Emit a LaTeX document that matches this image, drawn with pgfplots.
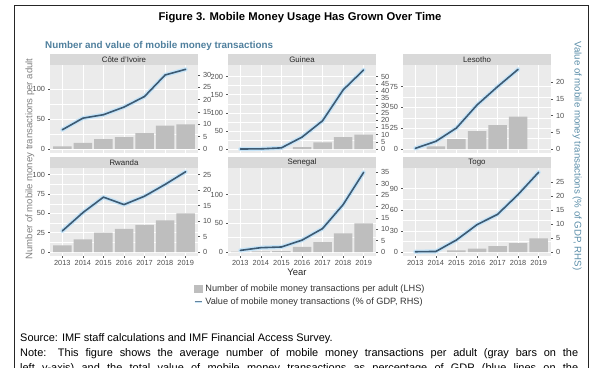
\documentclass[border=0pt]{standalone}
\usepackage{pgfplots}
\pgfplotsset{compat=1.18}
\usepackage{fontspec}
\setmainfont{Liberation Sans}
\definecolor{barc}{HTML}{BEBEBE}
\definecolor{panelbg}{HTML}{EBEBEB}
\definecolor{stripc}{HTML}{D9D9D9}
\definecolor{linec}{HTML}{3C5A73}
\definecolor{glowc}{HTML}{C6E4F8}
\definecolor{tlabc}{HTML}{4D4D4D}
\definecolor{tickc}{HTML}{555555}
\definecolor{subc}{HTML}{4F7F9D}
\definecolor{rlabc}{HTML}{5A8DA8}
\definecolor{llabc}{HTML}{808080}
\definecolor{legtc}{HTML}{333333}
\pgfplotsset{
  common/.style={anchor=south west, scale only axis, width=148bp, height=88bp,
    xmin=2012.4, xmax=2019.6, clip=false,
    tick align=outside, major tick length=2bp, minor tick length=0bp,
    tick style={color=tickc, line width=0.4bp},
    ticklabel style={font=\fontsize{7.4}{8.4}\selectfont, text=tlabc},
    /pgf/number format/assume math mode=true, scaled y ticks=false,
    axis line style={draw=none}},
  leftax/.style={common,
    axis background/.style={fill=panelbg},
    axis x line*=bottom, axis y line*=left,
    xtick={2013,...,2019}, minor x tick num=1, minor y tick num=1,
    xmajorgrids, ymajorgrids, xminorgrids, yminorgrids,
    major grid style={white, line width=0.6bp},
    minor grid style={white, line width=0.3bp},
    yticklabel style={xshift=0.5bp}},
  toprow/.style={xticklabels={}, x tick style={draw=none}},
  botrow/.style={xticklabels={2013,2014,2015,2016,2017,2018,2019},
    xticklabel style={yshift=1.5bp}},
  rightax/.style={common, axis x line=none, axis y line*=right,
    yticklabel style={xshift=-0.5bp}},
  bars/.style={ybar, bar width=0.9, bar shift=0pt, fill=barc, draw=none, forget plot},
  glow/.style={glowc, line width=4.2bp, line join=round, line cap=round},
  dline/.style={linec, line width=1.6bp, line join=round, line cap=round},
}
\begin{document}
\begin{tikzpicture}
\path[use as bounding box] (0,0) rectangle (600bp,-368bp);
% frame
\draw[line width=0.8bp, black!85] (14bp,-380bp) -- (14bp,-5bp) -- (588bp,-5bp) -- (588bp,-380bp);
\node[font=\bfseries\fontsize{11.3}{13}\selectfont] at (300bp,-18bp) {Figure 3. Mobile Money Usage Has Grown Over Time};
\node[anchor=west, font=\bfseries\fontsize{9.9}{11}\selectfont, text=subc, inner sep=0pt] at (45bp,-45.5bp) {Number and value of mobile money transactions};

% strips
\fill[stripc] (50bp,-54bp) rectangle (198bp,-65bp);
\fill[stripc] (228bp,-54bp) rectangle (376bp,-65bp);
\fill[stripc] (403bp,-54bp) rectangle (551bp,-65bp);
\fill[stripc] (50bp,-157bp) rectangle (198bp,-168bp);
\fill[stripc] (228bp,-157bp) rectangle (376bp,-168bp);
\fill[stripc] (403bp,-157bp) rectangle (551bp,-168bp);
\begin{scope}[every node/.style={font=\fontsize{7.9}{9}\selectfont, text=black!85, inner sep=0pt}]
\node at (124bp,-59.5bp) {Côte d'Ivoire};
\node at (302bp,-59.5bp) {Guinea};
\node at (477bp,-59.5bp) {Lesotho};
\node at (124bp,-162.5bp) {Rwanda};
\node at (302bp,-162.5bp) {Senegal};
\node at (477bp,-162.5bp) {Togo};
\end{scope}

% ---------------- Cote d'Ivoire
\begin{axis}[leftax, toprow, at={(50bp,-153bp)}, ymin=-6.7, ymax=139.8, ytick={0,50,100}]
\addplot[bars] coordinates {(2013,4.4) (2014,10) (2015,16.6) (2016,19.9) (2017,26.5) (2018,38.7) (2019,40.9)};
\end{axis}
\begin{axis}[rightax, at={(50bp,-153bp)}, ymin=-1.62, ymax=34.05, ytick={0,5,...,30}]
\addplot[glow] coordinates {(2013,7.8) (2014,12.5) (2015,13.9) (2016,17) (2017,21.3) (2018,30) (2019,32.3)};
\addplot[dline] coordinates {(2013,7.8) (2014,12.5) (2015,13.9) (2016,17) (2017,21.3) (2018,30) (2019,32.3)};
\end{axis}

% ---------------- Guinea
\begin{axis}[leftax, toprow, at={(228bp,-153bp)}, ymin=-11, ymax=232, ytick={0,50,...,200}]
\addplot[bars] coordinates {(2016,5.5) (2017,18) (2018,33) (2019,39.5)};
\end{axis}
\begin{axis}[rightax, at={(228bp,-153bp)}, ymin=-2.76, ymax=58, ytick={0,5,...,50}]
\addplot[glow] coordinates {(2013,0) (2014,0.1) (2015,0.8) (2016,8.2) (2017,19.5) (2018,40.8) (2019,54.6)};
\addplot[dline] coordinates {(2013,0) (2014,0.1) (2015,0.8) (2016,8.2) (2017,19.5) (2018,40.8) (2019,54.6)};
\end{axis}

% ---------------- Lesotho
\begin{axis}[leftax, toprow, at={(403bp,-153bp)}, ymin=-4.8, ymax=101, ytick={0,25,50,75}]
\addplot[bars] coordinates {(2014,3.2) (2015,12) (2016,21.5) (2017,28.7) (2018,39)};
\end{axis}
\begin{axis}[rightax, at={(403bp,-153bp)}, ymin=-1.2, ymax=25.2, ytick={0,5,...,20}]
\addplot[glow] coordinates {(2013,0.2) (2014,2.3) (2015,6.3) (2016,13.2) (2017,18.7) (2018,23.9)};
\addplot[dline] coordinates {(2013,0.2) (2014,2.3) (2015,6.3) (2016,13.2) (2017,18.7) (2018,23.9)};
\end{axis}

% ---------------- Rwanda
\begin{axis}[leftax, botrow, at={(50bp,-256bp)}, ymin=-5.17, ymax=108.6, ytick={0,25,50,75,100}]
\addplot[bars] coordinates {(2013,8.6) (2014,16.3) (2015,24.9) (2016,30) (2017,35.2) (2018,40.8) (2019,49.8)};
\end{axis}
\begin{axis}[rightax, at={(50bp,-256bp)}, ymin=-1.29, ymax=27.1, ytick={0,5,...,25}]
\addplot[glow] coordinates {(2013,6.8) (2014,12.7) (2015,17.7) (2016,15.3) (2017,18) (2018,21.8) (2019,25.9)};
\addplot[dline] coordinates {(2013,6.8) (2014,12.7) (2015,17.7) (2016,15.3) (2017,18) (2018,21.8) (2019,25.9)};
\end{axis}

% ---------------- Senegal
\begin{axis}[leftax, botrow, at={(228bp,-256bp)}, ymin=-6.95, ymax=146, ytick={0,50,100},
  legend style={at={(-0.235,-0.30)}, anchor=north west, draw=none, fill=none, inner sep=0pt,
    row sep=1bp, font=\fontsize{9.2}{10}\selectfont, text=legtc, nodes={inner ysep=2bp}}, legend cell align=left]
\addplot[bars] coordinates {(2013,0.5) (2014,1) (2015,1.5) (2016,8.7) (2017,17.3) (2018,32.4) (2019,49.7)};
\addlegendimage{legend image code/.code={\fill[barc] (0bp,-3.5bp) rectangle (7.5bp,3.5bp);}}
\addlegendentry{Number of mobile money transactions per adult (LHS)}
\addlegendimage{legend image code/.code={\draw[glowc, line width=2.5bp] (0bp,0bp) -- (7.5bp,0bp); \draw[linec!70!glowc, line width=1bp] (0bp,0bp) -- (7.5bp,0bp);}}
\addlegendentry{Value of mobile money transactions (\% of GDP, RHS)}
\end{axis}
\begin{axis}[rightax, at={(228bp,-256bp)}, ymin=-1.76, ymax=36.9, ytick={0,5,...,35}]
\addplot[glow] coordinates {(2013,0.7) (2014,1.9) (2015,2.2) (2016,5.2) (2017,10.3) (2018,20.8) (2019,35)};
\addplot[dline] coordinates {(2013,0.7) (2014,1.9) (2015,2.2) (2016,5.2) (2017,10.3) (2018,20.8) (2019,35)};
\end{axis}

% ---------------- Togo
\begin{axis}[leftax, botrow, at={(403bp,-256bp)}, ymin=-5.68, ymax=119.3, ytick={0,30,60,90}]
\addplot[bars] coordinates {(2015,2.4) (2016,4.7) (2017,8.5) (2018,12.7) (2019,19.3)};
\end{axis}
\begin{axis}[rightax, at={(403bp,-256bp)}, ymin=-1.43, ymax=30.1, ytick={0,5,...,25}]
\addplot[glow] coordinates {(2013,0.1) (2014,0.2) (2015,4.3) (2016,9.8) (2017,13.5) (2018,20.6) (2019,28.6)};
\addplot[dline] coordinates {(2013,0.1) (2014,0.2) (2015,4.3) (2016,9.8) (2017,13.5) (2018,20.6) (2019,28.6)};
\end{axis}

% axis titles
\node[font=\fontsize{9.5}{11}\selectfont, text=black!85] at (297bp,-272bp) {Year};
\node[rotate=90, font=\fontsize{9.6}{11}\selectfont, text=llabc] at (30bp,-159bp) {Number of mobile money transactions per adult};
\node[rotate=-90, font=\fontsize{9.7}{11}\selectfont, text=rlabc] at (577bp,-156bp) {Value of mobile money transactions (\% of GDP, RHS)};

% source and note
\begin{scope}[every node/.style={anchor=west, inner sep=0pt, font=\fontsize{11}{12.5}\selectfont}]
\node at (20bp,-339bp) {Source: IMF staff calculations and IMF Financial Access Survey.};
\node at (20bp,-354bp) {\makebox[558bp][s]{Note: This figure shows the average number of mobile money transactions per adult (gray bars on the}};
\node at (20bp,-369bp) {\makebox[558bp][s]{left y-axis) and the total value of mobile money transactions as percentage of GDP (blue lines on the}};
\end{scope}
\end{tikzpicture}
\end{document}
